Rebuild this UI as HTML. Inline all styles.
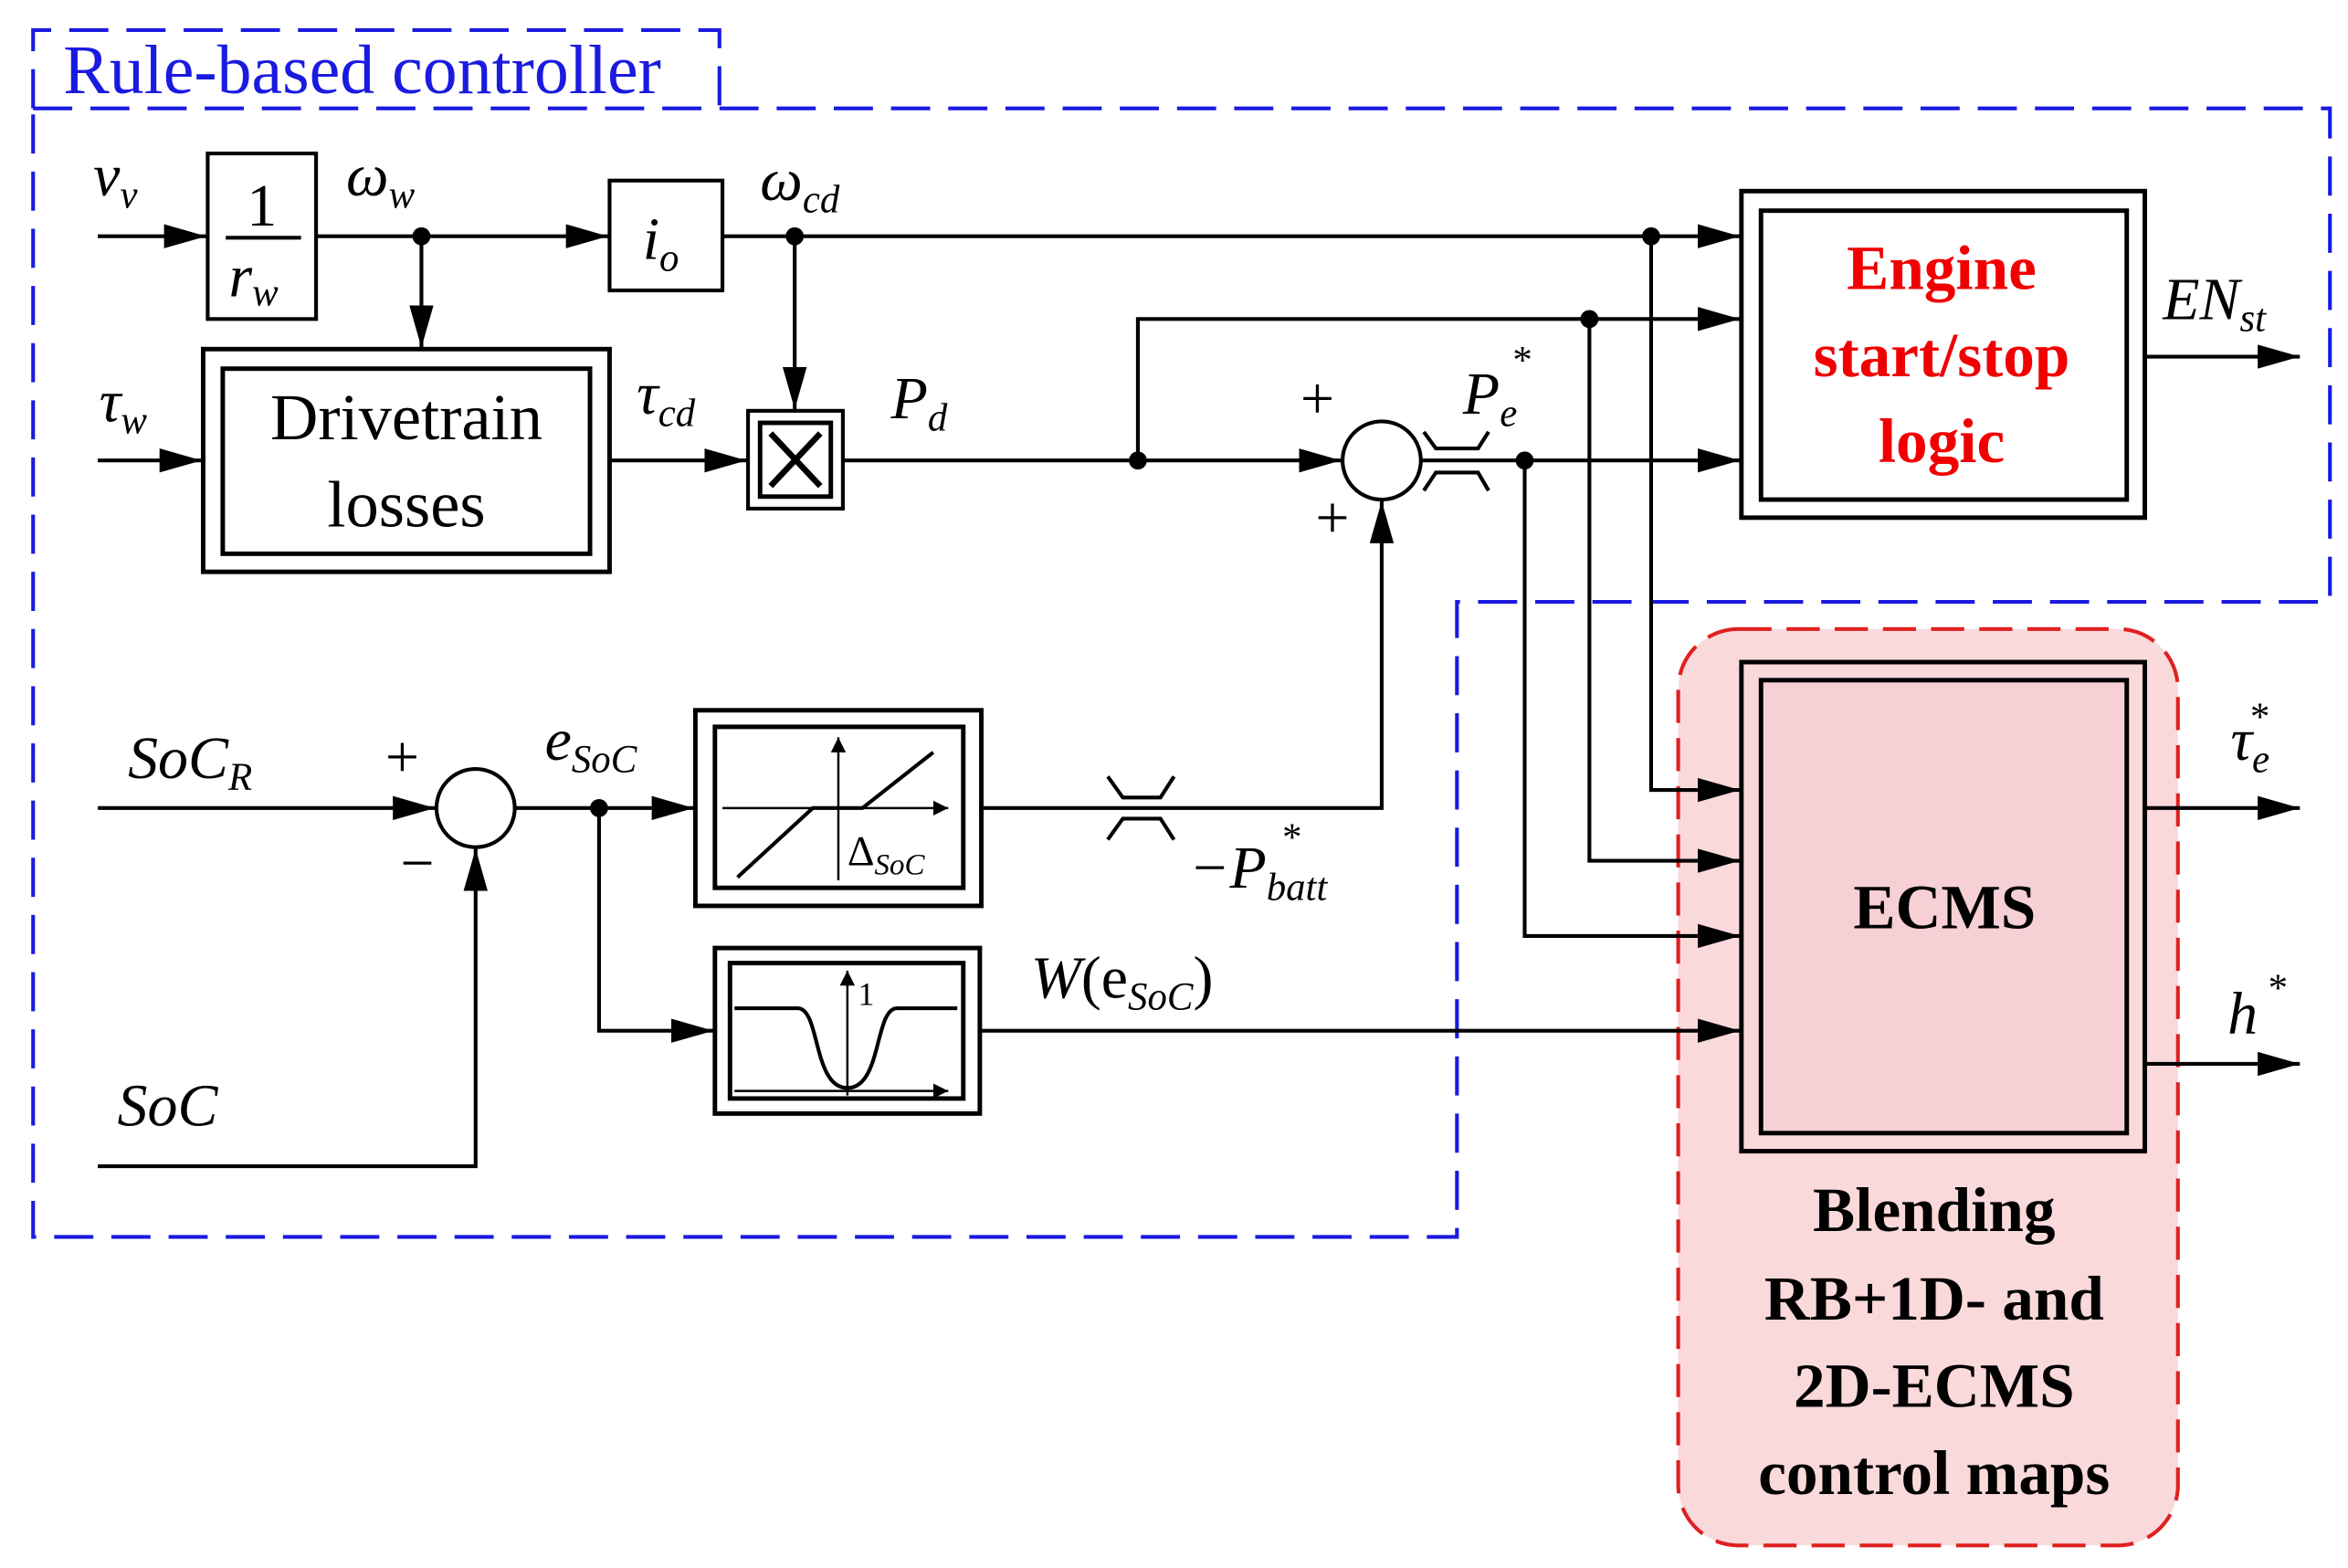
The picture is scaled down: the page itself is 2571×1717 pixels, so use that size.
<!DOCTYPE html>
<html><head><meta charset="utf-8"><style>html,body{margin:0;padding:0;background:#fff}svg{display:block}</style></head>
<body>
<svg width="2571" height="1717" viewBox="0 0 1560 1042" preserveAspectRatio="none" xmlns="http://www.w3.org/2000/svg" font-family="'Liberation Serif', serif">
<defs>
<marker id="b" markerWidth="28" markerHeight="16" refX="28" refY="8" orient="auto" markerUnits="userSpaceOnUse" viewBox="0 0 28 16"><path d="M0,0 L28,8 L0,16 z" fill="#000"/></marker>
<marker id="a" markerWidth="10" markerHeight="10" refX="10" refY="5" orient="auto" markerUnits="userSpaceOnUse" viewBox="0 0 10 10"><path d="M0,0 L10,5 L0,10 z" fill="#000"/></marker>
</defs>
<rect width="1560" height="1042" fill="#fff"/>
<g fill="none" stroke="#1a1ae0" stroke-width="2.5" stroke-dasharray="26,12">
<path d="M22,72 L22,20 L478,20 L478,72"/>
<path d="M22,72 L1548,72 L1548,400 L968,400 L968,822 L22,822 Z"/>
</g>
<text x="42" y="62" font-size="46" fill="#1a1ae0">Rule-based controller</text>
<rect x="1115" y="418" width="332" height="609" rx="40" fill="#fad9db" stroke="#e02020" stroke-width="2.5" stroke-dasharray="22,10"/>
<g fill="none" stroke="#000" stroke-width="2.5">
<rect x="138" y="102" width="72" height="110" fill="#fff"/>
<rect x="405" y="120" width="75" height="73" fill="#fff"/>
<rect x="135" y="232" width="270" height="148" stroke-width="3"/>
<rect x="148" y="245" width="244" height="123" stroke-width="3"/>
<rect x="497" y="273" width="63" height="65"/>
<rect x="505" y="281" width="47" height="49" stroke-width="3"/>
<path d="M512,288 L545,323 M545,288 L512,323" stroke-width="4"/>
<rect x="1157" y="127" width="268" height="217" stroke-width="3"/>
<rect x="1170" y="140" width="243" height="192" stroke-width="3"/>
<rect x="1157" y="440" width="268" height="325" stroke-width="3"/>
<rect x="1170" y="452" width="243" height="301" stroke-width="3" fill="#f6d0d4"/>
<rect x="462" y="472" width="190" height="130" stroke-width="3"/>
<rect x="475" y="483" width="165" height="107" stroke-width="3"/>
<rect x="475" y="630" width="176" height="110" stroke-width="3"/>
<rect x="485" y="640" width="155" height="90" stroke-width="3"/>
<circle cx="918" cy="306" r="26"/>
<circle cx="316" cy="537" r="26"/>
</g>
<g fill="none" stroke="#000" stroke-width="1.5">
<path d="M480,537 L630,537" marker-end="url(#a)"/>
<path d="M557,585 L557,490" marker-end="url(#a)"/>
<path d="M490,583 L540,537 L573,537 L620,500" stroke-width="2.5"/>
<path d="M488,725 L630,725" marker-end="url(#a)"/>
<path d="M563,728 L563,645" marker-end="url(#a)"/>
<path d="M488,670 L530,670 C545,670 540,723 563,723 C586,723 581,670 596,670 L636,670" stroke-width="2.5"/>
</g>
<g fill="none" stroke="#000" stroke-width="2.5">
<path d="M65,157 L137,157" marker-end="url(#b)"/>
<path d="M210,157 L404,157" marker-end="url(#b)"/>
<path d="M280,157 L280,231" marker-end="url(#b)"/>
<path d="M480,157 L1156,157" marker-end="url(#b)"/>
<path d="M528,157 L528,272" marker-end="url(#b)"/>
<path d="M1097,157 L1097,525 L1156,525" marker-end="url(#b)"/>
<path d="M65,306 L134,306" marker-end="url(#b)"/>
<path d="M405,306 L496,306" marker-end="url(#b)"/>
<path d="M560,306 L891,306" marker-end="url(#b)"/>
<path d="M756,306 L756,212 L1156,212" marker-end="url(#b)"/>
<path d="M1056,212 L1056,572 L1156,572" marker-end="url(#b)"/>
<path d="M944,306 L1156,306" marker-end="url(#b)"/>
<path d="M1013,306 L1013,622 L1156,622" marker-end="url(#b)"/>
<path d="M1425,237 L1528,237" marker-end="url(#b)"/>
<path d="M1425,537 L1528,537" marker-end="url(#b)"/>
<path d="M1425,707 L1528,707" marker-end="url(#b)"/>
<path d="M65,537 L289,537" marker-end="url(#b)"/>
<path d="M342,537 L461,537" marker-end="url(#b)"/>
<path d="M398,537 L398,685 L474,685" marker-end="url(#b)"/>
<path d="M652,537 L918,537 L918,333" marker-end="url(#b)"/>
<path d="M651,685 L1156,685" marker-end="url(#b)"/>
<path d="M65,775 L316,775 L316,564" marker-end="url(#b)"/>
<path d="M946,287 L954,298 L982,298 L989,287 M946,326 L954,314 L982,314 L989,326"/>
<path d="M736,516 L746,530 L771,530 L780,516 M736,558 L746,544 L771,544 L780,558"/>
</g>
<g fill="#000">
<circle cx="280" cy="157" r="6"/><circle cx="528" cy="157" r="6"/><circle cx="1097" cy="157" r="6"/>
<circle cx="756" cy="306" r="6"/><circle cx="1056" cy="212" r="6"/><circle cx="1013" cy="306" r="6"/>
<circle cx="398" cy="537" r="6"/>
</g>
<g font-size="40" fill="#000">
<text x="174" y="150" text-anchor="middle">1</text>
<path d="M150,158 L200,158" stroke="#000" stroke-width="2.5"/>
<text x="152" y="197" font-style="italic">r<tspan font-size="26" dy="6">w</tspan></text>
<text x="427" y="172" font-style="italic">i<tspan font-size="26" dy="8">o</tspan></text>
<text x="270" y="292" font-size="44" text-anchor="middle">Drivetrain</text>
<text x="270" y="350" font-size="44" text-anchor="middle">losses</text>
<text x="62" y="130" font-style="italic">v<tspan font-size="26" dy="8">v</tspan></text>
<text x="230" y="130" font-style="italic">ω<tspan font-size="26" dy="8">w</tspan></text>
<text x="505" y="133" font-style="italic">ω<tspan font-size="26" dy="8">cd</tspan></text>
<text x="66" y="280" font-style="italic">τ<tspan font-size="26" dy="8">w</tspan></text>
<text x="423" y="275" font-style="italic">τ<tspan font-size="26" dy="8">cd</tspan></text>
<text x="592" y="278" font-style="italic">P<tspan font-size="26" dy="8">d</tspan></text>
<text x="864" y="278" font-size="40">+</text>
<text x="874" y="357" font-size="40">+</text>
<text x="972" y="275" font-style="italic">P<tspan font-size="26" dy="8">e</tspan></text>
<text x="1005" y="248" font-size="26">*</text>
<text x="1437" y="212" font-style="italic">EN<tspan font-size="26" dy="8">st</tspan></text>
<text x="1482" y="505" font-style="italic">τ<tspan font-size="26" dy="8">e</tspan></text>
<text x="1495" y="485" font-size="26">*</text>
<text x="1480" y="687" font-style="italic">h</text>
<text x="1507" y="665" font-size="26">*</text>
<text x="85" y="517" font-style="italic">SoC<tspan font-size="26" dy="8">R</tspan></text>
<text x="256" y="516" font-size="40">+</text>
<text x="266" y="587" font-size="40">−</text>
<text x="362" y="505" font-style="italic">e<tspan font-size="26" dy="8">SoC</tspan></text>
<text x="563" y="575" font-size="28">Δ<tspan font-size="20" dy="6" font-style="italic">SoC</tspan></text>
<text x="570" y="668" font-size="22">1</text>
<text x="790" y="590" font-style="italic">−P<tspan font-size="26" dy="8">batt</tspan></text>
<text x="852" y="565" font-size="26">*</text>
<text x="685" y="663"><tspan font-style="italic">W</tspan>(e<tspan font-size="26" dy="8" font-style="italic">SoC</tspan><tspan dy="-8">)</tspan></text>
<text x="78" y="748" font-style="italic">SoC</text>
</g>
<g font-size="42" font-weight="bold" text-anchor="middle">
<text x="1290" y="192" fill="#f00000">Engine</text>
<text x="1290" y="250" fill="#f00000">start/stop</text>
<text x="1290" y="307" fill="#f00000">logic</text>
<text x="1292" y="617" fill="#000">ECMS</text>
<text x="1285" y="818" fill="#000">Blending</text>
<text x="1285" y="877" fill="#000">RB+1D- and</text>
<text x="1285" y="935" fill="#000">2D-ECMS</text>
<text x="1285" y="993" fill="#000">control maps</text>
</g>
</svg>
</body></html>
